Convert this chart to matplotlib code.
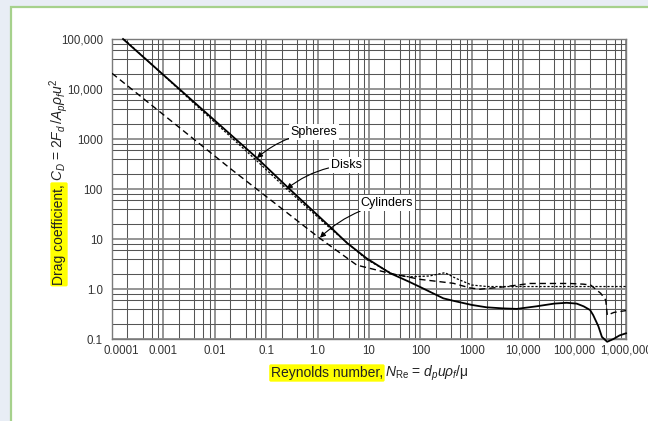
import matplotlib
matplotlib.use("Agg")
import matplotlib.pyplot as plt
from matplotlib.patches import Rectangle
from matplotlib.ticker import LogLocator, FixedLocator, NullFormatter
from matplotlib.transforms import ScaledTranslation

plt.rcParams['font.family'] = ['Liberation Sans', 'DejaVu Sans']
plt.rcParams['mathtext.fontset'] = 'custom'
plt.rcParams['mathtext.rm'] = 'Liberation Sans'
plt.rcParams['mathtext.it'] = 'Liberation Sans:italic'

# values
re_sphere = [1.64e-4, 0.066, 0.25, 1.74, 3.7, 9.0, 26, 60, 98, 280, 440, 1000, 1950,
             4000, 7500, 18000, 40000, 70000, 1.1e5, 1.5e5, 2.0e5, 2.3e5, 2.9e5,
             3.4e5, 4.3e5, 5.7e5, 7.5e5, 1.0e6]
cd_sphere = [1e5, 417, 113, 17.6, 8.4, 4.1, 2.06, 1.4, 1.1, 0.65, 0.58, 0.48, 0.43,
             0.41, 0.40, 0.45, 0.51, 0.53, 0.51, 0.45, 0.38, 0.30, 0.18,
             0.11, 0.088, 0.10, 0.118, 0.13]

re_disk = [1.7e-4, 0.066, 0.25, 1.74, 9.0, 30, 60, 150, 300, 500, 1000, 2000, 4000, 1.0e6]
cd_disk = [1e5, 365, 100, 16.5, 3.9, 1.95, 1.75, 1.82, 2.12, 1.62, 1.2, 1.12, 1.12, 1.12]

re_cyl = [1e-4, 0.0198, 1.11, 5.8, 25.6, 98, 437, 923, 1440, 4070, 13500, 81000,
          1.48e5, 2.05e5, 3.22e5, 4.03e5, 4.33e5, 5.83e5, 1.0e6]
cd_cyl = [20600, 259, 10.3, 3.0, 2.06, 1.56, 1.3, 1.05, 0.99, 1.1, 1.29, 1.29,
          1.25, 1.2, 0.82, 0.60, 0.30, 0.34, 0.37]

x_ticks = [1e-4, 1e-3, 1e-2, 1e-1, 1, 10, 100, 1e3, 1e4, 1e5, 1e6]
x_labels = ["0.0001", "0.001", "0.01", "0.1", "1.0", "10", "100", "1000",
            "10,000", "100,000", "1,000,000"]
y_ticks = [0.1, 1, 10, 100, 1e3, 1e4, 1e5]
y_labels = ["0.1", "1.0", "10", "100", "1000", "10,000", "100,000"]

fig = plt.figure(figsize=(6.48, 4.21), dpi=100)
fig.patch.set_facecolor('#e8edf5')
fig.patches.append(Rectangle((10.5 / 648, -0.02), 1.0, (421 - 7) / 421 + 0.02,
                             transform=fig.transFigure, facecolor='white',
                             edgecolor='#a6d18c', lw=1.6, zorder=-5))

ax = fig.add_axes([112 / 648, 82 / 421, 514 / 648, 300 / 421])
ax.set_xscale('log')
ax.set_yscale('log')
ax.set_xlim(1e-4, 1e6)
ax.set_ylim(0.1, 1e5)

ax.xaxis.set_major_locator(FixedLocator(x_ticks))
ax.yaxis.set_major_locator(FixedLocator(y_ticks))
ax.set_xticklabels(x_labels)
ax.set_yticklabels(y_labels)
ax.xaxis.set_minor_locator(LogLocator(base=10, subs=(2, 4, 6, 8), numticks=30))
ax.yaxis.set_minor_locator(LogLocator(base=10, subs=(2, 4, 6, 8), numticks=30))
ax.xaxis.set_minor_formatter(NullFormatter())
ax.yaxis.set_minor_formatter(NullFormatter())
ax.tick_params(which='both', length=0, labelsize=8.3, colors='#333333')
ax.tick_params(axis='y', pad=6.5)
ax.tick_params(axis='x', pad=4)

ax.grid(which='major', color='#8c8c8c', lw=1.3)
ax.grid(which='minor', color='#555555', lw=0.75)
ax.set_axisbelow(True)
for sp in ax.spines.values():
    sp.set_color('#7a7a7a')
    sp.set_linewidth(1.0)

ax.plot(re_sphere, cd_sphere, color='black', lw=1.3, clip_on=False, zorder=5)
ax.plot(re_disk, cd_disk, color='black', lw=0.9, dashes=(1.8, 1.4), zorder=5)
ax.plot(re_cyl, cd_cyl, color='black', lw=1.0, dashes=(4.5, 2.8), zorder=5)

arrow = dict(arrowstyle='-|>', color='black', lw=0.8, mutation_scale=8,
             shrinkA=0, shrinkB=0, connectionstyle='arc3,rad=0.15')
box = dict(boxstyle='square,pad=0.15', fc='white', ec='none')
ax.annotate("Spheres", xy=(0.066, 417), xytext=(0.85, 1380), fontsize=9,
            ha='center', va='center', bbox=box, arrowprops=arrow, zorder=6)
ax.annotate("Disks", xy=(0.25, 100), xytext=(3.57, 302), fontsize=9,
            ha='center', va='center', bbox=box, arrowprops=arrow, zorder=6)
ax.annotate("Cylinders", xy=(1.11, 10.6), xytext=(22.4, 52), fontsize=9,
            ha='center', va='center', bbox=box, arrowprops=arrow, zorder=6)

# nudge the first x label like the original
lab0 = ax.xaxis.get_major_ticks()[0].label1
lab0.set_transform(lab0.get_transform() + ScaledTranslation(0.09, 0, fig.dpi_scale_trans))

hl = dict(boxstyle='round,pad=0.12', fc='#ffff00', ec='none')
fig.text(383 / 648, (421 - 373) / 421, "Reynolds number,", fontsize=10,
         ha='right', va='center', bbox=hl, color='#222222')
fig.text(385 / 648, (421 - 373) / 421, r"$N_{\mathrm{Re}}$ = $d_p u \rho_f$/μ",
         fontsize=10, ha='left', va='center', color='#222222')

fig.text(59 / 648, (421 - 184) / 421, "Drag coefficient,", fontsize=10, rotation=90,
         rotation_mode='anchor', ha='right', va='center', bbox=hl, color='#222222')
fig.text(59 / 648, (421 - 181) / 421, r"$C_D$ = 2$F_d\,$/$A_p\rho_f u^2$", fontsize=10,
         rotation=90, rotation_mode='anchor', ha='left', va='center', color='#222222')

fig.savefig("out.png", dpi=100, facecolor=fig.get_facecolor())
